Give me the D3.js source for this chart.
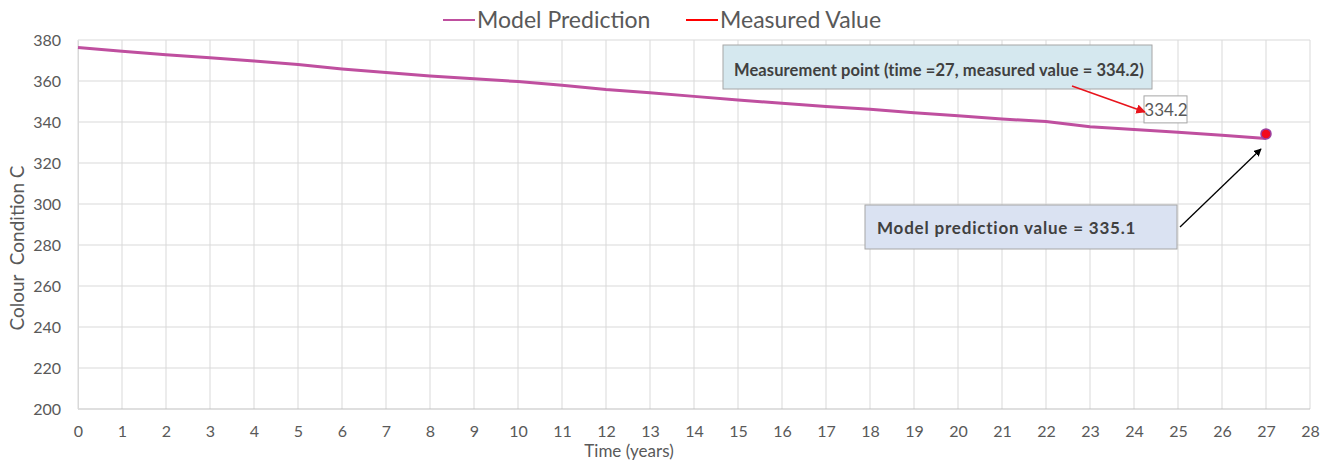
<!DOCTYPE html>
<html>
<head>
<meta charset="utf-8">
<style>
  body { margin: 0; background: #fff; }
  svg { display: block; }
</style>
</head>
<body>
<svg width="1335" height="464"></svg>

<script src="https://d3js.org/d3.v7.min.js"></script>
<script>

	// Colour condition over time: model curve and one measured point

	const years = [0, 1, 2, 3, 4, 5, 6, 7, 8, 9, 10, 11, 12, 13, 14, 15, 16, 17, 18, 19, 20, 21, 22, 23, 24, 25, 26, 27]
	const modelPrediction = [376.3, 374.5, 372.8, 371.4, 369.8, 368.1, 365.9, 364.1, 362.4, 361.1, 359.7, 357.9, 355.8, 354.3,
		352.5, 350.7, 349.1, 347.6, 346.2, 344.5, 343.1, 341.5, 340.2, 337.7, 336.4, 335.0, 333.5, 332.0]
	const measuredTime = [27]
	const measuredValue = [334.2]
	const xTicks = d3.range(0, 29)
	const yTicks = [200, 220, 240, 260, 280, 300, 320, 340, 360, 380]
	const seriesNames = ["Model Prediction", "Measured Value"]
	const notes = ["Measurement point (time =27, measured value = 334.2)", "Model prediction value = 335.1"]

	const width = 1335
	const height = 464
	const margin = {top: 40, right: 25, bottom: 55, left: 78}

	const font = "Lato, 'Open Sans', sans-serif"
	const textGrey = "#595959"
	const lineColor = "#bf4f9f"

	const svg = d3.select("svg")
		.attr("font-family", font)

	const x = d3.scaleLinear()
		.domain([0, 28])
		.range([margin.left, width - margin.right])

	const y = d3.scaleLinear()
		.domain([200, 380])
		.range([height - margin.bottom, margin.top])

	// grid lines
	svg.append("g")
		.selectAll("line")
		.data(xTicks)
		.join("line")
			.attr("x1", d => x(d))
			.attr("x2", d => x(d))
			.attr("y1", y(380))
			.attr("y2", y(200))
			.attr("stroke", "#d9d9d9")
			.attr("stroke-width", 1)

	svg.append("g")
		.selectAll("line")
		.data(yTicks)
		.join("line")
			.attr("x1", x(0))
			.attr("x2", x(28))
			.attr("y1", d => y(d))
			.attr("y2", d => y(d))
			.attr("stroke", d => d === 200 ? "#bfbfbf" : "#d9d9d9")
			.attr("stroke-width", 1)

	// axes (labels only, lines come from the grid)
	const xAxis = svg.append("g")
		.attr("transform", `translate(0,${y(200)})`)
		.call(d3.axisBottom(x).tickValues(xTicks).tickSize(0).tickPadding(17))
	xAxis.select(".domain").remove()
	xAxis.selectAll("text")
		.attr("font-size", 16)
		.attr("font-family", font)
		.attr("fill", textGrey)

	const yAxis = svg.append("g")
		.attr("transform", `translate(${x(0)},0)`)
		.call(d3.axisLeft(y).tickValues(yTicks).tickSize(0).tickPadding(17))
	yAxis.select(".domain").attr("stroke", "#d9d9d9")
	yAxis.selectAll("text")
		.attr("font-size", 16)
		.attr("font-family", font)
		.attr("fill", textGrey)

	// axis titles
	svg.append("text")
		.attr("x", 629)
		.attr("y", 457)
		.attr("text-anchor", "middle")
		.attr("font-size", 17)
		.attr("fill", textGrey)
		.text("Time (years)")

	svg.append("text")
		.attr("transform", "translate(24,248) rotate(-90)")
		.attr("text-anchor", "middle")
		.attr("font-size", 19)
		.attr("fill", textGrey)
		.style("white-space", "pre")
		.text("Colour  Condition C")

	// model line
	const line = d3.line()
		.x((d, i) => x(years[i]))
		.y(d => y(d))

	svg.append("path")
		.datum(modelPrediction)
		.attr("d", line)
		.attr("fill", "none")
		.attr("stroke", lineColor)
		.attr("stroke-width", 3)

	// measured point
	svg.append("g")
		.selectAll("circle")
		.data(measuredValue)
		.join("circle")
			.attr("cx", (d, i) => x(measuredTime[i]))
			.attr("cy", d => y(d))
			.attr("r", 5)
			.attr("fill", "#f20a1e")
			.attr("stroke", "#9b3fa0")
			.attr("stroke-width", 1.5)

	// data label for the point, up and to the left of it
	const lab = svg.append("g")
	lab.append("rect")
		.attr("x", x(measuredTime[0]) - 122)
		.attr("y", y(measuredValue[0]) - 38)
		.attr("width", 43)
		.attr("height", 27)
		.attr("fill", "#fff")
		.attr("stroke", "#a6a6a6")
		.attr("stroke-width", 1)
	lab.append("text")
		.attr("x", x(measuredTime[0]) - 100)
		.attr("y", y(measuredValue[0]) - 18)
		.attr("text-anchor", "middle")
		.attr("font-size", 17)
		.attr("fill", textGrey)
		.text(d3.format(".1f")(measuredValue[0]))

	// arrow markers
	const defs = svg.append("defs")
	const arrowColors = {red: "#e8141c", black: "#000"}
	Object.entries(arrowColors).forEach(([k, c]) => {
		defs.append("marker")
			.attr("id", "arrow-" + k)
			.attr("viewBox", "0 0 10 10")
			.attr("refX", 9)
			.attr("refY", 5)
			.attr("markerWidth", 6)
			.attr("markerHeight", 6)
			.attr("orient", "auto")
			.append("path")
				.attr("d", "M0,0 L10,5 L0,10 z")
				.attr("fill", c)
	})

	// callout 1: measurement point
	svg.append("rect")
		.attr("x", 723)
		.attr("y", 45)
		.attr("width", 429)
		.attr("height", 44)
		.attr("fill", "#d5e8ef")
		.attr("stroke", "#a6a6a6")
	svg.append("text")
		.attr("x", 734)
		.attr("y", 76)
		.attr("font-size", 16.5)
		.attr("font-weight", "bold")
		.attr("letter-spacing", 0.1)
		.attr("fill", "#404040")
		.text(notes[0])
	svg.append("line")
		.attr("x1", 1072)
		.attr("y1", 86)
		.attr("x2", 1145)
		.attr("y2", 112)
		.attr("stroke", arrowColors.red)
		.attr("stroke-width", 1.6)
		.attr("marker-end", "url(#arrow-red)")

	// callout 2: model prediction value
	svg.append("rect")
		.attr("x", 865)
		.attr("y", 205)
		.attr("width", 312)
		.attr("height", 44)
		.attr("fill", "#dae2f2")
		.attr("stroke", "#a6a6a6")
	svg.append("text")
		.attr("x", 877)
		.attr("y", 234)
		.attr("font-size", 17)
		.attr("font-weight", "bold")
		.attr("letter-spacing", 0.8)
		.attr("fill", "#404040")
		.text(notes[1])
	svg.append("line")
		.attr("x1", 1180)
		.attr("y1", 227)
		.attr("x2", 1261)
		.attr("y2", 149)
		.attr("stroke", arrowColors.black)
		.attr("stroke-width", 1.3)
		.attr("marker-end", "url(#arrow-black)")

	// legend
	const legend = svg.append("g")
	const legendItems = [
		{name: seriesNames[0], color: lineColor, x: 443},
		{name: seriesNames[1], color: "#ff0000", x: 686}
	]
	legendItems.forEach(d => {
		legend.append("line")
			.attr("x1", d.x)
			.attr("x2", d.x + 32)
			.attr("y1", 20)
			.attr("y2", 20)
			.attr("stroke", d.color)
			.attr("stroke-width", 2)
		legend.append("text")
			.attr("x", d.x + 34)
			.attr("y", 28)
			.attr("font-size", 23)
			.attr("fill", textGrey)
			.text(d.name)
	})

</script>
</body>
</html>
